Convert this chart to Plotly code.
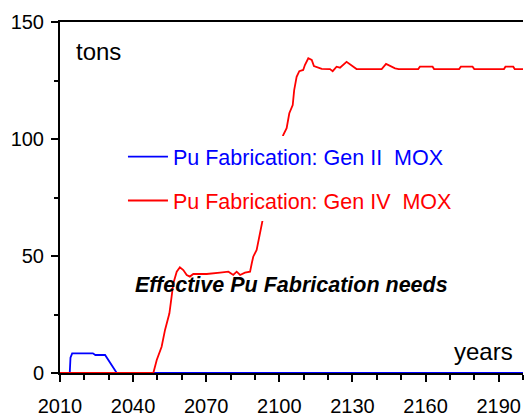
import plotly.graph_objects as go

# Gen II MOX Pu fabrication (tons)
gen2_years = [2010, 2014, 2014.3, 2015, 2023.5, 2024.5, 2028.5, 2030.2, 2031.9, 2033.3, 2200]
gen2_tons = [0, 0, 6.5, 8.4, 8.4, 7.7, 7.7, 5.1, 2.0, 0, 0]

# Gen IV MOX Pu fabrication (tons)
gen4_years = [2010, 2048.3, 2049.7, 2051.7, 2053.1, 2054.9, 2055.8, 2056.5, 2057.9, 2059.2,
              2060.6, 2062.0, 2063.3, 2064.7, 2070.2, 2072.2, 2075.7, 2079.1, 2081.1, 2082.5,
              2083.9, 2085.9, 2088.0, 2088.7, 2089.3, 2090.7, 2092.8, 2095, 2098, 2100,
              2101.6, 2103.0, 2104.1, 2105.5, 2106.1, 2107.1, 2108.2, 2109.8, 2110.5, 2111.9,
              2113.3, 2114.2, 2116.0, 2117.4, 2120.8, 2121.9, 2123.5, 2124.9, 2127.6, 2131.7,
              2142.0, 2143.8, 2147.5, 2149.0, 2157.0, 2157.7, 2162.9, 2163.5, 2173.8, 2174.5,
              2179.3, 2180.0, 2192.2, 2192.8, 2196.0, 2196.6, 2200]
gen4_tons = [0, 0, 5.6, 11.2, 18.4, 25.5, 32.6, 38.3, 43.3, 45.2,
             44.0, 41.9, 41.2, 42.3, 42.3, 42.6, 42.9, 43.3, 41.9, 43.3,
             41.9, 42.9, 43.3, 46.9, 49.7, 52.6, 63.2, 75, 88, 95,
             101.7, 104.6, 111.0, 114.5, 120.9, 126.6, 129.0, 129.5, 131.6, 134.5,
             133.8, 131.2, 130.6, 130.0, 129.9, 129.0, 130.9, 130.5, 133.0, 129.9,
             129.9, 132.1, 130.2, 129.9, 129.9, 130.9, 130.9, 129.9, 129.9, 130.9,
             130.9, 129.9, 129.9, 130.9, 130.9, 129.9, 129.9]

x_ticks = [2010, 2040, 2070, 2100, 2130, 2160, 2190]
y_ticks = [0, 50, 100, 150]

FONT = "Arial, Liberation Sans, sans-serif"
NB = "\u00a0"

fig = go.Figure()
fig.add_trace(go.Scatter(
    x=gen2_years, y=gen2_tons, mode="lines",
    line=dict(color="#0000FF", width=1.8),
    name="<span style='color:#0000FF'>Pu Fabrication: Gen II" + NB + NB + "MOX</span>",
    legendgroup="a"))
fig.add_trace(go.Scatter(
    x=gen4_years, y=gen4_tons, mode="lines",
    line=dict(color="#FF0000", width=1.8),
    name="<span style='color:#FF0000'>Pu Fabrication: Gen IV" + NB + NB + "MOX</span>",
    legendgroup="b"))

fig.update_layout(
    width=525, height=418,
    margin=dict(l=60, r=2, t=22, b=45),
    paper_bgcolor="white", plot_bgcolor="white",
    font=dict(family=FONT, size=20, color="black"),
    showlegend=True,
    legend=dict(x=0.136, y=0.675, xanchor="left", yanchor="top",
                bgcolor="white", borderwidth=0,
                font=dict(family=FONT, size=21.5),
                tracegroupgap=13, itemwidth=40),
    xaxis=dict(range=[2010, 2200], tickvals=x_ticks, ticks="outside", ticklen=7,
               tickwidth=2, tickcolor="black", showline=True, linewidth=2,
               linecolor="black", mirror=True, showgrid=False, zeroline=False,
               layer="below traces", ticklabelstandoff=7, automargin=False,
               minor=dict(dtick=10, tick0=2010, ticks="outside", ticklen=5,
                          tickwidth=2, tickcolor="black", showgrid=False),
               tickfont=dict(size=20)),
    yaxis=dict(range=[0, 150], tickvals=y_ticks, ticks="outside", ticklen=7,
               tickwidth=2, tickcolor="black", showline=True, linewidth=2,
               linecolor="black", showgrid=False, zeroline=False,
               layer="below traces", ticklabelstandoff=3, automargin=False,
               minor=dict(dtick=25, tick0=0, ticks="outside", ticklen=4,
                          tickwidth=2, tickcolor="black", showgrid=False),
               tickfont=dict(size=20)),
    annotations=[
        dict(text="tons", xref="paper", yref="paper", x=0.03, y=0.915,
             xanchor="left", yanchor="middle", showarrow=False,
             font=dict(family=FONT, size=24, color="black")),
        dict(text="years", xref="paper", yref="paper", x=0.982, y=0.06,
             xanchor="right", yanchor="middle", showarrow=False,
             font=dict(family=FONT, size=24, color="black")),
        dict(text="<b><i>Effective Pu Fabrication needs</i></b>", xref="paper", yref="paper",
             x=0.499, y=0.25, xanchor="center", yanchor="middle", showarrow=False,
             font=dict(family=FONT, size=21.5, color="black")),
    ],
)

fig.write_html("out.html", config={"displayModeBar": False},
               post_script="document.body.style.margin='0';document.body.style.overflow='hidden';")
